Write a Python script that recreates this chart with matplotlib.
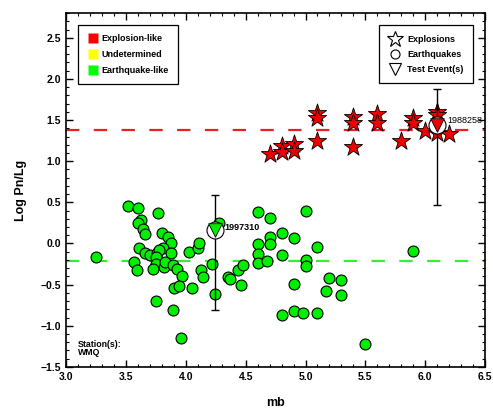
import matplotlib
matplotlib.use("Agg")
import matplotlib.pyplot as plt
from matplotlib.lines import Line2D
import matplotlib.ticker

plt.rcParams['font.family'] = ['Liberation Sans', 'DejaVu Sans']
plt.rcParams['font.weight'] = 'bold'

# Earthquakes (mb, log Pn/Lg)
quake_mb = [3.52, 3.60, 3.77, 3.63, 3.60, 3.64, 3.66, 3.80, 3.85, 3.88,
            3.61, 3.81, 3.66, 3.70, 3.76, 3.78, 3.88, 3.75, 4.03, 4.10,
            4.11, 3.25, 3.57, 3.59, 3.75, 3.73, 3.82, 3.83, 3.89, 3.93,
            3.97, 3.90, 3.94, 4.05, 3.75, 3.89, 3.96, 4.13, 4.14, 4.22,
            4.24, 4.35, 4.37, 4.46, 4.44, 4.48, 4.28, 4.60, 4.70, 4.70,
            4.70, 4.60, 4.60, 4.60, 4.68, 4.80, 4.80, 4.80, 4.90, 4.90,
            4.90, 5.00, 5.00, 5.00, 4.98, 5.10, 5.10, 5.20, 5.30, 5.17,
            5.30, 5.50, 5.90]
quake_ratio = [0.46, 0.43, 0.37, 0.29, 0.25, 0.18, 0.12, 0.13, 0.08, 0.01,
               -0.05, -0.05, -0.12, -0.14, -0.12, -0.08, -0.11, -0.16, -0.10, -0.05,
               0.01, -0.17, -0.22, -0.32, -0.25, -0.31, -0.29, -0.22, -0.26, -0.31,
               -0.39, -0.54, -0.52, -0.54, -0.70, -0.81, -1.15, -0.32, -0.41, -0.25,
               -0.62, -0.41, -0.43, -0.50, -0.32, -0.26, 0.25, 0.38, 0.31, 0.08,
               -0.01, -0.01, -0.13, -0.24, -0.21, 0.13, -0.14, -0.87, 0.07, -0.49,
               -0.82, 0.40, -0.20, -0.28, -0.84, -0.04, -0.85, -0.42, -0.45, -0.58,
               -0.63, -1.22, -0.09]

# Explosions
blast_mb = [4.70, 4.80, 4.80, 4.90, 4.90, 5.10, 5.10, 5.10, 5.40, 5.40, 5.40,
            5.60, 5.60, 5.80, 5.90, 5.90, 6.00, 6.10, 6.10, 6.10, 6.20]
blast_ratio = [1.09, 1.18, 1.11, 1.21, 1.12, 1.58, 1.52, 1.25, 1.54, 1.47, 1.17,
               1.57, 1.47, 1.25, 1.53, 1.46, 1.37, 1.60, 1.56, 1.34, 1.33]

# Test events with their uncertainty ranges
test_ids = ['1997310', '1988258']
test_mb = [4.24, 6.10]
test_ratio = [0.16, 1.44]
test_low = [-0.81, 0.47]
test_high = [0.59, 1.88]
test_class = ['#00ee00', '#ee0000']

# Discriminant thresholds
explosion_level = 1.38
quake_level = -0.21

fig = plt.figure(figsize=(4.93, 4.09), dpi=100)
ax = fig.add_axes((0.134, 0.103, 0.850, 0.865))

ax.axhline(explosion_level, color='#ee1c24', lw=1.6, dashes=(6, 6.5), zorder=1)
ax.axhline(quake_level, color='#33ee33', lw=1.6, dashes=(6, 6.5), zorder=1)

ax.scatter(quake_mb, quake_ratio, s=62, marker='o', facecolor='#00ee00',
           edgecolor='black', linewidth=0.8, zorder=3)
ax.scatter(blast_mb, blast_ratio, s=190, marker='*', facecolor='#ee0000',
           edgecolor='black', linewidth=0.6, zorder=3)

for i in range(len(test_mb)):
    ax.errorbar(test_mb[i], test_ratio[i],
                yerr=[[test_ratio[i] - test_low[i]], [test_high[i] - test_ratio[i]]],
                fmt='none', ecolor='black', elinewidth=1.0, capsize=3, capthick=1.0, zorder=4)
    ax.scatter(test_mb[i], test_ratio[i], s=150, marker='o', facecolor='white',
               edgecolor='black', linewidth=0.8, zorder=5)
    ax.scatter(test_mb[i], test_ratio[i], s=95, marker='v', facecolor=test_class[i],
               edgecolor='black', linewidth=0.6, zorder=6)

ax.annotate(test_ids[0], xy=(test_mb[0], test_ratio[0]), xytext=(7, 2),
            textcoords='offset points', fontsize=6.5, fontweight='bold', va='center')
ax.annotate(test_ids[1], xy=(test_mb[1], test_ratio[1]), xytext=(7, 3),
            textcoords='offset points', fontsize=6.5, fontweight='normal', va='center')

ax.text(3.1, -1.17, 'Station(s):\nWMQ', fontsize=6.3, fontweight='bold',
        va='top', ha='left', linespacing=0.95)

ax.set_xlim(3.0, 6.5)
ax.set_ylim(-1.5, 2.8)
ax.xaxis.set_major_locator(matplotlib.ticker.MultipleLocator(0.5))
ax.xaxis.set_minor_locator(matplotlib.ticker.MultipleLocator(0.1))
ax.yaxis.set_major_locator(matplotlib.ticker.MultipleLocator(0.5))
ax.yaxis.set_minor_locator(matplotlib.ticker.MultipleLocator(0.1))
ax.xaxis.set_major_formatter(matplotlib.ticker.StrMethodFormatter("{x:.1f}"))
ax.yaxis.set_major_formatter(matplotlib.ticker.StrMethodFormatter("{x:.1f}"))
ax.tick_params(which='both', direction='in', top=True, right=True, labelsize=7.5)
ax.tick_params(which='major', length=5, width=1)
ax.tick_params(which='minor', length=2.5, width=0.8)
for side in ax.spines.values():
    side.set_linewidth(1.2)

ax.set_xlabel('mb', fontsize=9, fontweight='bold', labelpad=11)
ax.set_ylabel('Log Pn/Lg', fontsize=9, fontweight='bold', labelpad=10)

# Classification colours
class_handles = [
    Line2D([], [], ls='none', marker='s', ms=6.5, mfc='#ff0000', mec='none', label='Explosion-like'),
    Line2D([], [], ls='none', marker='s', ms=6.5, mfc='#ffff00', mec='none', label='Undetermined'),
    Line2D([], [], ls='none', marker='s', ms=6.5, mfc='#00ff00', mec='none', label='Earthquake-like'),
]
leg1 = ax.legend(handles=class_handles, loc='upper left', bbox_to_anchor=(0.029, 0.965),
                 borderaxespad=0, fancybox=False, edgecolor='black', framealpha=1,
                 prop={'size': 6.5, 'weight': 'bold'}, handletextpad=0.4,
                 labelspacing=0.75, borderpad=1.0, handlelength=1.2)
leg1.get_frame().set_linewidth(0.9)
ax.add_artist(leg1)

# Event types
type_handles = [
    Line2D([], [], ls='none', marker='*', ms=12, mfc='white', mec='black', mew=0.8, label='Explosions'),
    Line2D([], [], ls='none', marker='o', ms=6.5, mfc='white', mec='black', mew=0.8, label='Earthquakes'),
    Line2D([], [], ls='none', marker='v', ms=8, mfc='white', mec='black', mew=0.8, label='Test Event(s)'),
]
leg2 = ax.legend(handles=type_handles, loc='upper right', bbox_to_anchor=(0.971, 0.965),
                 borderaxespad=0, fancybox=False, edgecolor='black', framealpha=1,
                 prop={'size': 6.5, 'weight': 'bold'}, handletextpad=0.5,
                 labelspacing=0.65, borderpad=1.05, handlelength=1.6)
leg2.get_frame().set_linewidth(0.9)

fig.savefig('out.png', dpi=100)
